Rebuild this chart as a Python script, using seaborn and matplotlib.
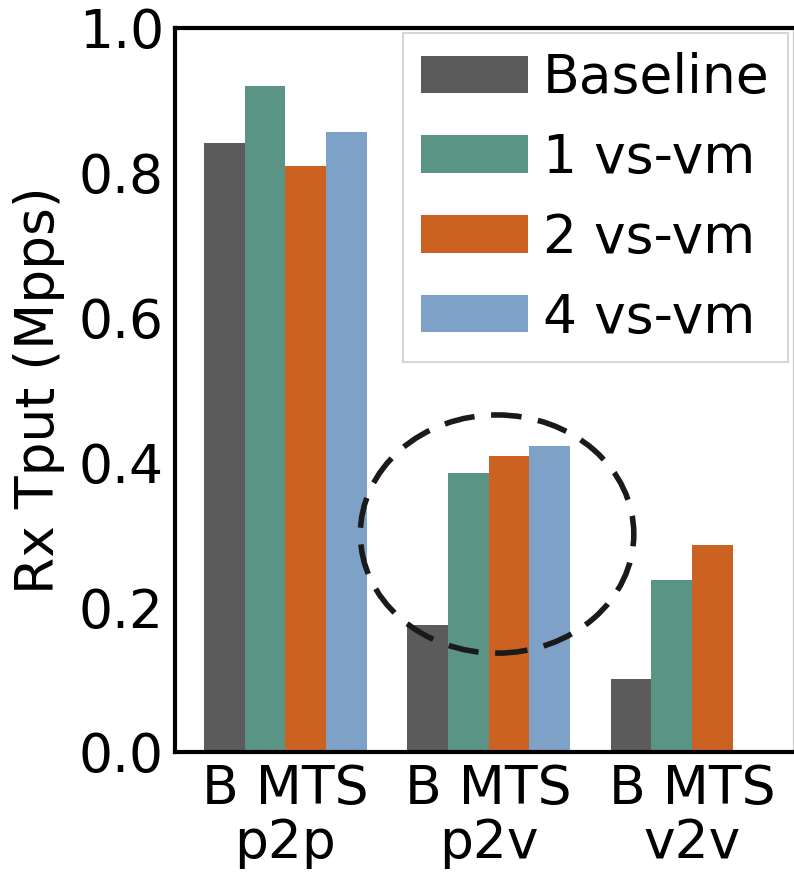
import pandas as pd
import seaborn as sns
import matplotlib.pyplot as plt
from matplotlib.patches import Ellipse

# Values
groups = ['B MTS\np2p', 'B MTS\np2v', 'B MTS\nv2v']
series = ['Baseline', '1 vs-vm', '2 vs-vm', '4 vs-vm']
baseline = [0.841, 0.175, 0.101]
vs1 = [0.920, 0.385, 0.238]
vs2 = [0.809, 0.409, 0.286]
vs4 = [0.856, 0.423, None]  # no bar for v2v
colors = ['#5b5b5b', '#5a9485', '#cc6221', '#7ea2c7']

rows = []
for name, vals in zip(series, [baseline, vs1, vs2, vs4]):
    for g, v in zip(groups, vals):
        if v is not None:
            rows.append({'group': g, 'series': name, 'tput': v})
df = pd.DataFrame(rows)

sns.set_style('white')
plt.rcParams['font.family'] = ['DejaVu Sans']
plt.rcParams['text.color'] = 'black'
plt.rcParams['axes.labelcolor'] = 'black'
plt.rcParams['xtick.color'] = 'black'
plt.rcParams['ytick.color'] = 'black'

fs = 38.5

fig = plt.figure(figsize=(7.94, 8.8), dpi=100)
ax = fig.add_axes([0.2204, 0.1455, 0.779, 0.8227])

sns.barplot(data=df, x='group', y='tput', hue='series', hue_order=series,
            order=groups, palette=colors, saturation=1, width=0.8,
            linewidth=0, ax=ax)

ax.set_xlim(-0.542, 2.5)
ax.set_ylim(0, 1.0)
ax.set_yticks([0.0, 0.2, 0.4, 0.6, 0.8, 1.0])
ax.set_yticklabels(['0.0', '0.2', '0.4', '0.6', '0.8', '1.0'])
ax.set_xlabel('')
ax.set_ylabel('Rx Tput (Mpps)', fontsize=fs, labelpad=10)
ax.tick_params(axis='both', length=0, labelsize=fs, pad=8)
ax.tick_params(axis='x', pad=8)
for lab in ax.get_xticklabels():
    lab.set_linespacing(1.05)

for side in ['left', 'bottom', 'top']:
    ax.spines[side].set_color('black')
    ax.spines[side].set_linewidth(3)
ax.spines['right'].set_color('#cccccc')
ax.spines['right'].set_linewidth(1.5)

# dashed circle highlighting the p2v group
ax.add_patch(Ellipse((1.042, 0.301), 1.345, 0.329, fill=False,
                     edgecolor='#1a1a1a', linewidth=4, linestyle=(0, (5.5, 3)),
                     zorder=5))

leg = ax.legend(loc='upper right', fontsize=fs, frameon=True, fancybox=False,
                handlelength=2.0, handleheight=0.7, handletextpad=0.27,
                labelspacing=0.52, borderpad=0.35, borderaxespad=0.1)
leg.get_frame().set_edgecolor('#cccccc')
leg.get_frame().set_linewidth(1.5)

plt.savefig('out.png', dpi=100)
